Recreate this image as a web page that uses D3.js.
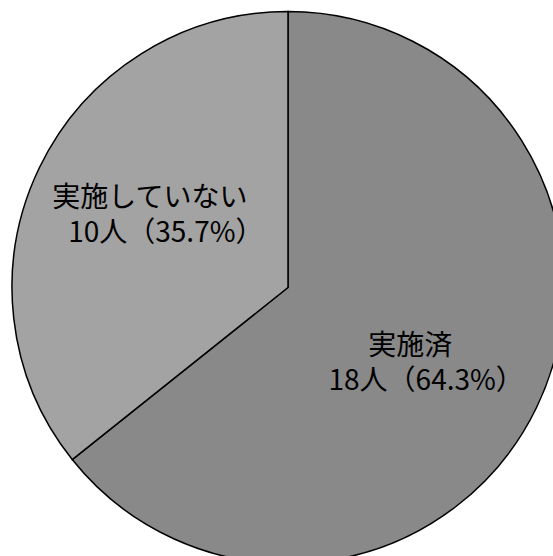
<!DOCTYPE html>
<html>
<head>
<meta charset="utf-8">
<script src="https://cdn.jsdelivr.net/npm/d3@7"></script>
<style>
  body { margin: 0; background: #fff; }
  text { font-family: "Noto Sans CJK JP", sans-serif; fill: #000; }
</style>
</head>
<body>
<svg id="chart" width="553" height="556"></svg>
<script>
var categories = ["実施済", "実施していない"],
    counts = [18, 10],
    percents = ["64.3%", "35.7%"],
    colors = ["#898989", "#a3a3a3"];

// small per-label nudges from the arc centroid (like Excel's label placement)
var nudges = [[3, 37], [13, 20]];

var svg = d3.select("#chart"),
    cx = 288, cy = 287.5,
    radius = 276;

var pie = d3.pie().sort(null).value(function(d) { return d; });
var arcs = pie(counts);

var arc = d3.arc().innerRadius(0).outerRadius(radius);
var labelArc = d3.arc().innerRadius(150).outerRadius(150);

var g = svg.append("g").attr("transform", "translate(" + cx + "," + cy + ")");

g.selectAll("path")
  .data(arcs)
  .enter().append("path")
    .attr("d", arc)
    .attr("fill", function(d, i) { return colors[i]; })
    .attr("stroke", "#000")
    .attr("stroke-width", 1.5)
    .attr("stroke-linejoin", "miter");

var labels = g.selectAll("text.lbl")
  .data(arcs)
  .enter().append("text")
    .attr("class", "lbl")
    .attr("font-size", 28)
    .attr("text-anchor", "middle")
    .attr("transform", function(d, i) {
      var c = labelArc.centroid(d);
      return "translate(" + (c[0] + nudges[i][0]) + "," + (c[1] + nudges[i][1]) + ")";
    });

labels.append("tspan")
    .attr("x", -16)
    .attr("y", -35)
    .text(function(d, i) { return categories[i]; });

labels.append("tspan")
    .attr("x", 0)
    .attr("y", 0)
    .text(function(d, i) { return counts[i] + "人（" + percents[i] + "）"; });
</script>
</body>
</html>
